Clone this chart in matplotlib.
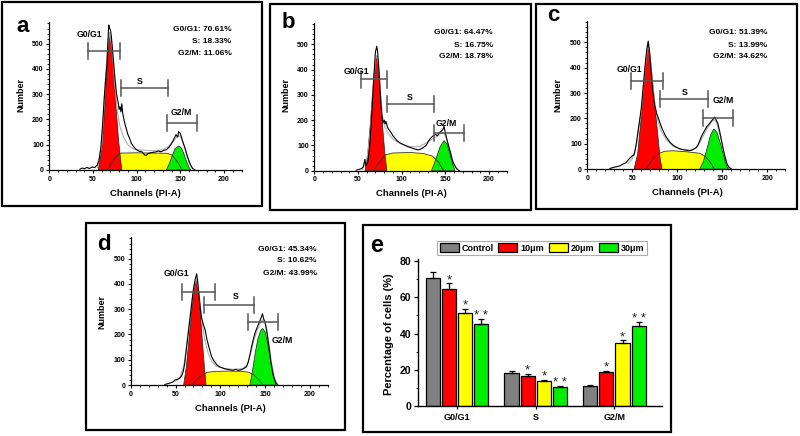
import matplotlib
matplotlib.use('Agg')
import matplotlib.pyplot as plt
from matplotlib.patches import Rectangle
from matplotlib.ticker import MultipleLocator

plt.rcParams['font.family'] = ['Liberation Sans', 'DejaVu Sans']
plt.rcParams['font.weight'] = 'bold'

W, H = 800, 436

# ---------------- panel a ----------------
a_data_x = [35,38,40,43,46,49,52,55,57,59,61,63,65,66,67,68,69,70,71,73,75,77,79,80,81,82,83,84,86,88,
            90,92,94,96,98,100,103,106,109,111,113,116,119,122,125,128,131,134,137,140,143,145,147,148,150,
            152,154,156,158,160,162,164,167]
a_data_y = [3,8,5,10,6,12,10,20,40,90,180,290,380,420,500,574,560,555,530,450,370,300,264,240,250,230,262,225,190,165,
            140,125,105,95,86,80,74,72,60,58,65,68,70,72,75,72,78,80,90,105,125,140,130,152,145,
            120,100,80,55,35,18,6,0]
a_fit_x = [55,60,64,67,69,72,75,78,81,85,90,95,100,110,120,130,137,142,147,150,153,156,160,164]
a_fit_y = [10,100,350,500,545,480,340,230,170,130,100,85,80,78,76,80,95,115,135,135,110,75,30,5]
a_g1_x = [56,60,63,66,68,69.5,71,73,75,77,79,81,83]
a_g1_y = [0,80,220,400,500,534,510,430,330,220,130,60,0]
a_s_x = [67,71,75,79,82,100,120,135,140,144,148,152]
a_s_y = [0,25,45,60,67,68,67,66,60,45,25,0]
a_g2_x = [134,138,141,144,148,151,154,157,160,162]
a_g2_y = [0,30,60,85,95,88,65,35,10,0]
a_pct = ["G0/G1: 70.61%", "S: 18.33%", "G2/M: 11.06%"]

# ---------------- panel b ----------------
b_data_x = [48,51,54,56,58,59,61,63,65,67,69,70,71.5,72.5,74,75.5,77,78.5,80,81,82,84,86,88,90,92,95,98,101,104,
            107,110,113,116,119,122,125,128,131,133,135,137,139,141,143,145,147,148.5,150,152,154,156,158,160,162,164,166]
b_data_y = [2,5,8,15,45,20,30,80,180,300,420,470,492,470,400,310,230,190,200,185,195,170,160,150,138,130,118,110,105,100,
            95,92,88,85,82,86,92,100,118,128,135,140,143,138,150,155,162,175,150,120,95,70,40,25,12,4,0]
b_fit_x = [55,60,64,67,70,72,74,76,78,80,84,90,100,110,120,128,135,140,145,148,151,154,157,160,164]
b_fit_y = [5,40,150,320,440,455,400,300,220,180,150,125,105,95,95,110,125,135,148,150,130,95,60,25,5]
b_g1_x = [58,61,64,67,69.5,71.4,73,75,77,79,81,83]
b_g1_y = [0,60,180,320,420,455,420,330,230,140,60,0]
b_s_x = [68,75,81,90,110,125,135,142,148]
b_s_y = [0,35,62,70,72,68,58,35,0]
b_g2_x = [134,137,140,144,148.5,152,155,158,161]
b_g2_y = [0,25,55,95,119,105,70,30,0]
b_pct = ["G0/G1: 64.47%", "S: 16.75%", "G2/M: 18.78%"]

# ---------------- panel c ----------------
c_data_x = [25,28,31,34,37,40,43,46,48,50,52,54,56,58,60,62,64,66,67.7,69,71,73,75,77,79,81,83,85,87,89,
            92,95,98,101,104,107,110,113,116,119,121,123,125,127,130,133,136,138,140,141.6,143,145,147,149,151,153,155,157,160]
c_data_y = [2,5,8,10,14,20,25,38,45,52,55,90,140,190,240,320,400,470,505,470,380,300,250,220,200,180,160,145,130,120,
            105,95,88,82,78,76,74,72,74,80,85,95,112,130,150,168,180,190,198,205,195,180,150,115,80,48,22,8,0]
c_fit_x = [45,50,55,60,64,67,69,72,75,78,82,88,95,105,115,122,128,134,138,141,144,148,152,156,160]
c_fit_y = [20,40,100,230,390,480,470,360,260,195,150,115,90,78,75,85,125,165,185,195,180,125,60,15,0]
c_g1_x = [52,56,59,62,65,67.5,70,73,76,79,81,83]
c_g1_y = [0,60,170,300,430,495,440,330,220,110,40,0]
c_s_x = [65,70,75,80,86,95,110,125,131,136,141]
c_s_y = [0,25,48,62,70,72,68,62,50,30,0]
c_g2_x = [125,129,133,137,140.5,144,148,152,155,157]
c_g2_y = [0,30,80,135,158,145,100,45,10,0]
c_pct = ["G0/G1: 51.39%", "S: 13.99%", "G2/M: 34.62%"]

# ---------------- panel d ----------------
d_data_x = [38,41,44,47,49.5,52,55,57,58.7,60,62,64,66,68,70,72,73.6,75,76,78,79,81,83,85,86.5,88,90,92,94,96,
            99,102,105,108,111,114,117,120,123,126,129,131,133,135,137,139,141,143,145,147,148,150,152,154,156,158,160,162,164]
d_data_y = [2,5,8,12,20,22,28,38,55,80,140,200,260,320,380,420,440,400,360,290,265,240,218,180,160,140,115,100,90,80,
            72,68,64,62,60,58,62,58,60,65,72,90,120,155,185,210,228,245,262,282,265,245,205,155,100,55,25,8,0]
d_fit_x = [50,55,60,64,68,71,73.5,76,79,82,86,90,95,105,115,125,130,134,138,142,146,148,151,154,157,160,163]
d_fit_y = [15,30,90,210,330,400,420,370,270,190,130,95,75,65,62,65,80,130,185,225,255,258,235,170,90,35,5]
d_g1_x = [59,62,65,68,71,73.5,76,78,80,82,84]
d_g1_y = [0,70,180,290,380,415,360,270,170,80,0]
d_s_x = [68,73,79,85,95,110,125,132,138,143,148]
d_s_y = [0,20,38,50,54,55,54,50,38,20,0]
d_g2_x = [133,136,139,142,145,147,150,153,156,159,162]
d_g2_y = [0,60,130,185,215,224,210,160,95,35,0]
d_pct = ["G0/G1: 45.34%", "S: 10.62%", "G2/M: 43.99%"]

gate_names = ["G0/G1", "S", "G2/M"]
# gate ranges: (start, end, level) and label positions (x, y)
a_gates = [(44.7, 81, 472), (81.7, 135.5, 323), (135, 169.5, 185)]
a_glab = [(45.4, 537), (103.8, 350), (151.5, 227)]
b_gates = [(53.4, 83.6, 361), (82.8, 137.4, 264), (136.6, 171, 148)]
b_glab = [(47.7, 394), (109.5, 289), (151.5, 185)]
c_gates = [(48, 84.3, 347), (80.6, 134.6, 276), (128, 162, 200)]
c_glab = [(47.3, 391), (108.3, 301), (150.8, 272)]
d_gates = [(57.6, 94, 367), (82, 137.8, 317), (130.4, 164.6, 248)]
d_glab = [(51.3, 442), (117.4, 352), (169, 178)]

# ---------------- panel e ----------------
phases = ["G0/G1", "S", "G2/M"]
groups = ["Control", "10\u03bcm", "20\u03bcm", "30\u03bcm"]
control_vals = [70.61, 18.33, 11.06]
um10_vals = [64.47, 16.75, 18.78]
um20_vals = [51.39, 13.99, 34.62]
um30_vals = [45.34, 10.62, 43.99]
control_err = [3.5, 0.8, 0.5]
um10_err = [3.3, 0.9, 0.8]
um20_err = [2.4, 0.6, 1.7]
um30_err = [2.4, 0.3, 2.2]
group_stars = ["", "*", "*", "* *"]
bar_colors = ["#808080", "#ff0000", "#ffff00", "#00ee00"]

fig = plt.figure(figsize=(W / 100, H / 100), dpi=100)


def px_axes(l, t, r, b):
    return fig.add_axes([l / W, 1 - b / H, (r - l) / W, (b - t) / H])


def box(l, t, r, b):
    fig.add_artist(Rectangle((l / W, 1 - b / H), (r - l) / W, (b - t) / H,
                             transform=fig.transFigure, fill=False,
                             edgecolor='black', lw=1.6, zorder=0))


def ftext(x, y, s, **kw):
    fig.text(x / W, 1 - y / H, s, **kw)


def hist_panel(rect, dx, dy, fx, fy, g1x, g1y, sx, sy, g2x, g2y, pct, pct_pos, gates, glab):
    ax = px_axes(*rect)
    ax.fill(sx, sy, color='#ffff00', lw=0, zorder=2)
    ax.fill(g1x, g1y, facecolor='#ff0000', edgecolor='#222222', lw=0.5, zorder=3)
    ax.fill(g2x, g2y, facecolor='#00ee00', edgecolor='#222222', lw=0.5, zorder=3)
    ax.plot(sx, sy, color='#333333', lw=0.6, zorder=4)
    ax.plot(fx, fy, color='#b0b0b0', lw=0.8, zorder=5)
    ax.plot(dx, dy, color='black', lw=0.8, zorder=6)
    for (x0, x1, yv), (lx, ly), nm in zip(gates, glab, gate_names):
        ax.plot([x0, x1], [yv, yv], color='#555555', lw=1.1, zorder=7)
        ax.plot([x0, x0], [yv - 32, yv + 32], color='#555555', lw=1.1, zorder=7)
        ax.plot([x1, x1], [yv - 32, yv + 32], color='#555555', lw=1.1, zorder=7)
        ax.text(lx, ly, nm, ha='center', va='center', fontsize=6.3, weight='bold', zorder=8)
    px_, pys = pct_pos
    for s, yy in zip(pct, pys):
        ax.text(px_, yy, s, ha='right', va='center', fontsize=6, weight='bold')
    ax.set_xlim(0, 220)
    ax.set_ylim(0, 585)
    ax.set_xticks([0, 50, 100, 150, 200])
    ax.set_yticks([0, 100, 200, 300, 400, 500])
    ax.xaxis.set_minor_locator(MultipleLocator(10))
    ax.yaxis.set_minor_locator(MultipleLocator(20))
    ax.tick_params(which='major', direction='out', length=2.5, width=0.8, labelsize=5, pad=1.5)
    ax.tick_params(which='minor', direction='out', length=1.5, width=0.6)
    for lab in ax.get_xticklabels() + ax.get_yticklabels():
        lab.set_fontweight('bold')
    ax.spines['top'].set_visible(False)
    ax.spines['right'].set_visible(False)
    ax.spines['left'].set_linewidth(0.9)
    ax.spines['bottom'].set_linewidth(0.9)
    ax.patch.set_alpha(0)
    return ax


# panel boxes
box(2, 2, 262, 206)
box(270, 4, 531, 210)
box(536, 4, 797, 209)
box(86, 223, 345, 430)
box(363, 225, 671, 432)

# panel a
hist_panel((49.3, 22.2, 241.5, 170), a_data_x, a_data_y, a_fit_x, a_fit_y, a_g1_x, a_g1_y,
           a_s_x, a_s_y, a_g2_x, a_g2_y, a_pct, (208.8, [558, 510, 463]), a_gates, a_glab)
ftext(16, 32, 'a', fontsize=16, weight='bold', ha='left', va='baseline')
ftext(21, 95, 'Number', fontsize=6.5, weight='bold', rotation=90, ha='center', va='center')
ftext(145, 193, 'Channels (PI-A)', fontsize=6.8, weight='bold', ha='center', va='center')

# panel b
hist_panel((314.3, 22.8, 506.5, 170.7), b_data_x, b_data_y, b_fit_x, b_fit_y, b_g1_x, b_g1_y,
           b_s_x, b_s_y, b_g2_x, b_g2_y, b_pct, (204.6, [545, 497, 450]), b_gates, b_glab)
ftext(281.5, 28, 'b', fontsize=16, weight='bold', ha='left', va='baseline')
ftext(286, 95, 'Number', fontsize=6.5, weight='bold', rotation=90, ha='center', va='center')
ftext(411, 193, 'Channels (PI-A)', fontsize=6.8, weight='bold', ha='center', va='center')

# panel c
hist_panel((587.3, 20.8, 785.3, 169), c_data_x, c_data_y, c_fit_x, c_fit_y, c_g1_x, c_g1_y,
           c_s_x, c_s_y, c_g2_x, c_g2_y, c_pct, (199.7, [537, 489, 446]), c_gates, c_glab)
ftext(547, 21, 'c', fontsize=16, weight='bold', ha='left', va='baseline')
ftext(558, 95, 'Number', fontsize=6.5, weight='bold', rotation=90, ha='center', va='center')
ftext(687, 192, 'Channels (PI-A)', fontsize=6.8, weight='bold', ha='center', va='center')

# panel d
hist_panel((130.7, 237.2, 328, 385), d_data_x, d_data_y, d_fit_x, d_fit_y, d_g1_x, d_g1_y,
           d_s_x, d_s_y, d_g2_x, d_g2_y, d_pct, (207.7, [538, 491, 443]), d_gates, d_glab)
ftext(97, 250, 'd', fontsize=16, weight='bold', ha='left', va='baseline')
ftext(102, 312, 'Number', fontsize=6.5, weight='bold', rotation=90, ha='center', va='center')
ftext(230, 408, 'Channels (PI-A)', fontsize=6.8, weight='bold', ha='center', va='center')

# panel e
axe = px_axes(417.7, 259.2, 661.7, 406)
vals = [control_vals, um10_vals, um20_vals, um30_vals]
errs = [control_err, um10_err, um20_err, um30_err]
step, bw = 0.205, 0.18
handles = []
for i, (v, e, col, st) in enumerate(zip(vals, errs, bar_colors, group_stars)):
    xs = [k + (i - 1.5) * step for k in range(len(phases))]
    bars = axe.bar(xs, v, width=bw, color=col, edgecolor='black', linewidth=0.9, zorder=2)
    axe.errorbar(xs, v, yerr=[[0] * len(e), e], fmt='none', ecolor='black', elinewidth=0.9,
                 capsize=2.5, capthick=0.9, zorder=3)
    handles.append(bars)
    if st:
        for xx, vv, ee in zip(xs, v, e):
            axe.text(xx, vv + ee - 1.6, st, ha='center', va='bottom', fontsize=9.5,
                     weight='normal', color='#222222')
axe.set_xlim(-0.5, 2.6)
axe.set_ylim(0, 81)
axe.set_xticks(range(len(phases)))
axe.set_xticklabels(phases)
axe.set_yticks([0, 20, 40, 60, 80])
axe.yaxis.set_minor_locator(MultipleLocator(10))
axe.tick_params(axis='y', which='major', direction='out', length=3, width=0.9, labelsize=7.5, pad=1.5)
axe.tick_params(axis='y', which='minor', direction='out', length=1.5, width=0.7)
axe.tick_params(axis='x', which='major', direction='out', length=2, width=0.9, labelsize=6.5, pad=3)
for lab in axe.get_xticklabels() + axe.get_yticklabels():
    lab.set_fontweight('bold')
axe.spines['top'].set_visible(False)
axe.spines['right'].set_visible(False)
axe.spines['left'].set_linewidth(1.0)
axe.spines['bottom'].set_linewidth(1.0)
axe.patch.set_alpha(0)
ftext(389, 334, 'Percentage of cells (%)', fontsize=8, weight='bold', rotation=90, ha='center', va='center')
ftext(370, 252, 'e', fontsize=17, weight='bold', ha='left', va='baseline')
leg = fig.legend(handles, groups, loc='center', bbox_to_anchor=(542 / W, 1 - 248 / H), ncol=4,
                 fontsize=6.5, frameon=True, fancybox=False, edgecolor='#999999', borderpad=0.25,
                 handlelength=2.1, handleheight=1.0, handletextpad=0.35, columnspacing=0.5,
                 borderaxespad=0)
leg.get_frame().set_linewidth(0.8)
for t in leg.get_texts():
    t.set_fontweight('bold')

fig.savefig('out.png', dpi=100)
